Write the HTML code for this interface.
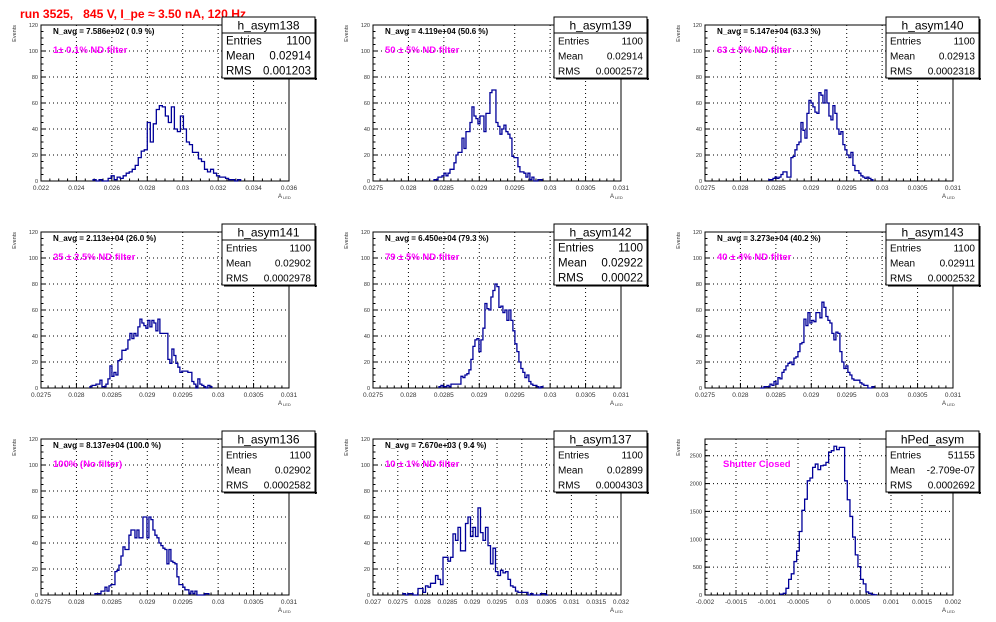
<!DOCTYPE html>
<html><head><meta charset="utf-8"><style>
body{margin:0;background:#fff}
svg{display:block;font-family:"Liberation Sans",Arial,sans-serif}
</style></head><body>
<svg id="c" width="996" height="622" viewBox="0 0 996 622" xmlns="http://www.w3.org/2000/svg">
<rect x="0" y="0" width="996" height="622" fill="#fff"/>
<text x="20" y="18" fill="#ff0000" font-weight="bold" font-size="12" textLength="226" lengthAdjust="spacingAndGlyphs" xml:space="preserve">run 3525,   845 V, I_pe ≈ 3.50 nA, 120 Hz</text>
</svg>
<script>
// ---- data ----
const h138Counts=[1,0,1,0,0,2,4,1,3,2,4,6,7,9,12,18,23,24,45,30,44,55,58,57,50,45,57,40,38,50,40,30,28,22,22,17,15,9,7,9,6,4,3,3,2,1,1,0,1];
const h139Counts=[1,1,3,3,4,6,4,6,9,9,14,20,22,22,33,25,38,38,45,57,50,48,44,50,50,38,52,52,68,70,70,45,42,36,40,43,38,36,33,19,18,18,11,7,7,6,3,6,1,3,0,0,1,1];
const h140Counts=[1,1,2,3,2,3,5,7,7,3,3,18,19,24,28,30,45,39,33,52,62,60,57,53,52,68,66,60,70,60,50,47,58,52,40,36,38,28,24,20,18,22,12,8,8,6,4,3,2,3,2,1];
const h141Counts=[1,2,2,3,3,6,1,1,3,7,17,9,12,10,21,22,29,29,30,37,42,38,42,40,47,53,50,48,46,52,47,52,50,44,53,42,42,42,42,22,19,30,25,19,16,12,13,13,13,12,12,5,3,0,7,3,2,1,0,2,1];
const h142Counts=[1,2,1,1,2,1,3,3,3,3,3,9,8,10,11,14,22,32,37,38,28,37,46,65,61,60,70,75,80,78,62,63,58,60,52,60,52,44,34,28,20,15,12,8,10,5,3,2,2,1,0,1];
const h143Counts=[0,0,1,1,1,3,2,5,3,8,7,12,14,17,19,20,18,23,24,28,34,35,53,48,58,50,52,51,58,58,54,66,62,55,52,50,42,37,43,42,28,20,15,17,12,10,7,6,6,6,4,3,2,2,0,0,1];
const h136Counts=[1,1,1,3,3,6,3,7,8,8,18,19,23,30,37,35,35,46,50,50,44,50,44,44,60,60,44,60,58,50,46,44,40,38,36,35,24,35,26,25,24,14,8,8,6,4,4,1,3,1,3,0,0,0,0,1,1];
const h137Counts=[1,0,1,1,0,0,5,5,2,7,6,9,9,15,12,8,29,29,26,29,47,42,52,34,34,55,60,45,52,45,67,48,42,52,38,24,36,18,15,19,17,18,12,7,6,3,2,2,2,2,0,1,0,0,0,1,1,0];
const hPedCounts=[15,30,120,280,380,600,790,1140,1520,1720,2050,2100,2290,2350,2250,2320,2330,2380,2560,2590,2670,2610,2650,2650,2050,1710,1410,1040,720,510,280,200,55,30,10,5];

const histNames=["h_asym138","h_asym139","h_asym140","h_asym141","h_asym142","h_asym143","h_asym136","h_asym137","hPed_asym"];
const entries=["1100","1100","1100","1100","1100","1100","1100","1100","51155"];
const means=["0.02914","0.02914","0.02913","0.02902","0.02922","0.02911","0.02902","0.02899","-2.709e-07"];
const rmsVals=["0.001203","0.0002572","0.0002318","0.0002978","0.00022","0.0002532","0.0002582","0.0004303","0.0002692"];
const navgLabels=["N_avg = 7.586e+02 ( 0.9 %)","N_avg = 4.119e+04 (50.6 %)","N_avg = 5.147e+04 (63.3 %)","N_avg = 2.113e+04 (26.0 %)","N_avg = 6.450e+04 (79.3 %)","N_avg = 3.273e+04 (40.2 %)","N_avg = 8.137e+04 (100.0 %)","N_avg = 7.670e+03 ( 9.4 %)",""];
const filterLabels=["1± 0.1% ND filter","50 ± 5% ND filter","63 ± 5% ND filter","25 ± 2.5% ND filter","79 ± 5% ND filter","40 ± 4% ND filter","100% (No filter)","10 ± 1% ND filter","Shutter Closed"];
const xTicks1=["0.022","0.024","0.026","0.028","0.03","0.032","0.034","0.036"];
const xTicksA=["0.0275","0.028","0.0285","0.029","0.0295","0.03","0.0305","0.031"];
const xTicksB=["0.027","0.0275","0.028","0.0285","0.029","0.0295","0.03","0.0305","0.031","0.0315","0.032"];
const xTicksPed=["-0.002","-0.0015","-0.001","-0.0005","0","0.0005","0.001","0.0015","0.002"];
const yTicksA=["0","20","40","60","80","100","120"];
const yTicksPed=["0","500","1000","1500","2000","2500"];

const NS="http://www.w3.org/2000/svg";
const svg=document.getElementById('c');
function mk(tag,attrs,parent){const e=document.createElementNS(NS,tag);for(const k in attrs)e.setAttribute(k,attrs[k]);(parent||svg).appendChild(e);return e;}

const panels=[
 {counts:h138Counts,xmin:0.022,xmax:0.036,start:0.02494,bw:0.00017,xt:xTicks1,minor:4,yt:yTicksA,ymax:120,yminor:4,big:true},
 {counts:h139Counts,xmin:0.0275,xmax:0.031,start:0.028361,bw:0.0000282,xt:xTicksA,minor:5,yt:yTicksA,ymax:120,yminor:4},
 {counts:h140Counts,xmin:0.0275,xmax:0.031,start:0.028403,bw:0.0000282,xt:xTicksA,minor:5,yt:yTicksA,ymax:120,yminor:4},
 {counts:h141Counts,xmin:0.0275,xmax:0.031,start:0.028191,bw:0.0000282,xt:xTicksA,minor:5,yt:yTicksA,ymax:120,yminor:4},
 {counts:h142Counts,xmin:0.0275,xmax:0.031,start:0.028431,bw:0.0000282,xt:xTicksA,minor:5,yt:yTicksA,ymax:120,yminor:4,big:true},
 {counts:h143Counts,xmin:0.0275,xmax:0.031,start:0.028276,bw:0.0000282,xt:xTicksA,minor:5,yt:yTicksA,ymax:120,yminor:4},
 {counts:h136Counts,xmin:0.0275,xmax:0.031,start:0.028262,bw:0.0000282,xt:xTicksA,minor:5,yt:yTicksA,ymax:120,yminor:4},
 {counts:h137Counts,xmin:0.027,xmax:0.032,start:0.027605,bw:0.0000504,xt:xTicksB,minor:5,yt:yTicksA,ymax:120,yminor:4},
 {counts:hPedCounts,xmin:-0.002,xmax:0.002,start:-0.00078,bw:0.000043,xt:xTicksPed,minor:5,yt:yTicksPed,ymax:2800,yminor:5,ped:true}
];

panels.forEach((p,i)=>{
  const col=i%3,row=Math.floor(i/3);
  const fx=41+col*332,fy=25+row*207,fw=248,fh=156;
  const g=mk('g',{});
  
  
  const X=v=>fx+(v-p.xmin)/(p.xmax-p.xmin)*fw;
  const Y=v=>fy+fh-v/p.ymax*fh;
  // grid
  const nx=p.xt.length-1, dx=(p.xmax-p.xmin)/nx;
  for(let k=0;k<=nx;k++){
    const x=X(p.xmin+k*dx);
    if(k>0&&k<nx){const l=mk('line',{x1:x,y1:fy,x2:x,y2:fy+fh,stroke:'#000','stroke-width':1,'stroke-dasharray':'1,3'},g);
      
      }
    const t=mk('text',{x:x,y:fy+fh+9,'font-size':6.5,fill:'#333','text-anchor':'middle'},g);
    t.textContent=p.xt[k];
    
    
    mk('line',{x1:x,y1:fy+fh,x2:x,y2:fy+fh-5,stroke:'#000','stroke-width':1},g);
    if(k<nx)for(let m=1;m<p.minor;m++){const xm=X(p.xmin+k*dx+m*dx/p.minor);mk('line',{x1:xm,y1:fy+fh,x2:xm,y2:fy+fh-2.5,stroke:'#000','stroke-width':1},g);}
  }
  const ny=p.yt.length;
  const dy=p.ped?500:20;
  for(let k=0;k<ny;k++){
    const v=+p.yt[k];const y=Y(v);
    if(k>0){const l=mk('line',{x1:fx,y1:y,x2:fx+fw,y2:y,stroke:'#000','stroke-width':1,'stroke-dasharray':'1,3'},g);
      
      }
    const t=mk('text',{x:fx-3,y:y+2,'font-size':5.5,fill:'#333','text-anchor':'end'},g);
    t.textContent=p.yt[k];
    
    
    mk('line',{x1:fx,y1:y,x2:fx+5,y2:y,stroke:'#000','stroke-width':1},g);
  }
  for(let v=0;v<=p.ymax;v+=dy/p.yminor){mk('line',{x1:fx,y1:Y(v),x2:fx+2.5,y2:Y(v),stroke:'#000','stroke-width':1},g);}
  // frame
  const fr=mk('rect',{x:fx,y:fy,width:fw,height:fh,fill:'none',stroke:'#000','stroke-width':1},g);
  
  
  // histogram
  let d='M'+X(p.start).toFixed(2)+','+Y(0).toFixed(2);
  p.counts.forEach((c,j)=>{
    const x0=X(p.start+j*p.bw),x1=X(p.start+(j+1)*p.bw);
    d+=' L'+x0.toFixed(2)+','+Y(c).toFixed(2)+' L'+x1.toFixed(2)+','+Y(c).toFixed(2);
  });
  d+=' L'+X(p.start+p.counts.length*p.bw).toFixed(2)+','+Y(0).toFixed(2);
  const hp=mk('path',{d:d,fill:'none',stroke:'#000099','stroke-width':1.3},g);
  
  
  // axis titles
  const ev=mk('text',{x:0,y:0,'font-size':5.5,fill:'#333','text-anchor':'end',transform:'translate('+(fx-25)+','+fy+') rotate(-90)'},g);
  ev.textContent='Events';
  
  
  const xt=mk('text',{x:fx+fw-11,y:fy+fh+17,'font-size':6,fill:'#333'},g);
  
  
  xt.innerHTML='A<tspan font-size="4" dx="1" dy="1">LED</tspan>';
  // labels
  if(navgLabels[i]){const t=mk('text',{x:fx+12,y:fy+9,'font-size':8,'font-weight':'bold',fill:'#000'},g);
    t.setAttribute('xml:space','preserve');
    t.textContent=navgLabels[i];
    
    }
  const ft=mk('text',{x:fx+(p.ped?18:12),y:fy+(p.ped?28:28),'font-size':9.5,'font-weight':'bold',fill:'#ff00ff'},g);
  ft.textContent=filterLabels[i];
  
  
  // stats box
  const bx=fx+181,by=fy-8,bw=93;
  const sb=mk('g',{},g);
  
  
  mk('rect',{x:bx,y:by,width:bw,height:61,fill:'#fff',stroke:'#000','stroke-width':1},sb);
  mk('rect',{x:bx+bw,y:by+2,width:1.5,height:61,fill:'#000'},sb);
  mk('rect',{x:bx+2,y:by+61,width:bw,height:1.5,fill:'#000'},sb);
  mk('line',{x1:bx,y1:by+16,x2:bx+bw,y2:by+16,stroke:'#000','stroke-width':1},sb);
  const tt=mk('text',{x:bx+bw/2,y:by+12.5,'font-size':12,'text-anchor':'middle',fill:'#000'},sb);
  tt.textContent=histNames[i];
  
  
  const fs=p.big?11.5:10;
  const rows=[['Entries',entries[i]],['Mean',means[i]],['RMS',rmsVals[i]]];
  rows.forEach((r,k)=>{
    const yy=by+16+15*k+11.5;
    const a=mk('text',{x:bx+4,y:yy,'font-size':fs,fill:'#000'},sb);a.textContent=r[0];
    
    
    const b=mk('text',{x:bx+bw-4,y:yy,'font-size':fs,fill:'#000','text-anchor':'end'},sb);b.textContent=r[1];
    
    
  });
});
</script>
</body></html>
